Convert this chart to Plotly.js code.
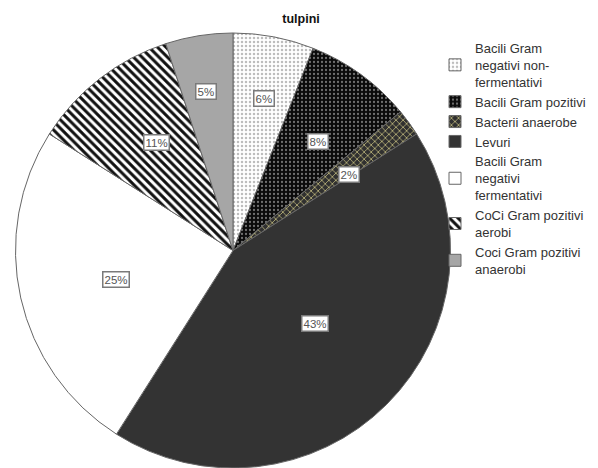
<!DOCTYPE html>
<html>
<head>
<meta charset="utf-8">
<script src="https://cdn.plot.ly/plotly-3.0.1.min.js"></script>
<style>html,body{margin:0;padding:0;background:#fff;}#chart{width:598px;height:468px;}</style>
</head>
<body>
<div id="chart"></div>
<script>
// Data
var labels = [
  "Bacili Gram<br>negativi non-<br>fermentativi",
  "Bacili Gram pozitivi",
  "Bacterii anaerobe",
  "Levuri",
  "Bacili Gram<br>negativi<br>fermentativi",
  "CoCi Gram pozitivi<br>aerobi",
  "Coci Gram pozitivi<br>anaerobi"
];
var values = [6, 8, 2, 43, 25, 11, 5];
var title = "tulpini";

// Styles
var bgColors = ["#ffffff", "#0a0a0a", "#303030", "#333333", "#ffffff", "#ffffff", "#a6a6a6"];
var patShapes = [".", ".", "x", "", "", "\\", ""];
var patFg = ["#bdbdbd", "#707070", "#b8b27a", "#333333", "#ffffff", "#111111", "#a6a6a6"];
var patSize = [4, 4, 5, 8, 8, 6, 8];
var patSolid = [0.3, 0.25, 0.3, 0.3, 0.3, 0.5, 0.3];
// radial placement of the percentage boxes (fraction of radius), a style setting
var labelRadius = [0.75, 0.665, 0.66, 0.53, 0.615, 0.675, 0.78];

var W = 598, H = 468, mT = 33;
var plotH = H - mT;
var R = plotH / 2;
var cxPx = 233;
var dom = [(cxPx - R) / W, (cxPx + R) / W];

var total = values.reduce(function (a, b) { return a + b; }, 0);
var annotations = [];
var cum = 0;
for (var i = 0; i < values.length; i++) {
  var mid = (cum + values[i] / 2) / total * 2 * Math.PI;
  cum += values[i];
  var px = cxPx + R * labelRadius[i] * Math.sin(mid);
  var py = R * labelRadius[i] * Math.cos(mid); // up from center
  annotations.push({
    x: px / W, y: 0.5 + py / plotH, xref: "paper", yref: "paper",
    text: Math.round(values[i] / total * 100) + "%",
    showarrow: false,
    font: {family: "Liberation Sans, Arial, sans-serif", size: 11.5, color: "#555"},
    bgcolor: "#ffffff", bordercolor: "#7a7a7a", borderwidth: 1.5, borderpad: 1
  });
}

var trace = {
  type: "pie",
  labels: labels,
  values: values,
  sort: false,
  direction: "clockwise",
  rotation: 0,
  textinfo: "none",
  hoverinfo: "label+percent",
  domain: {x: dom, y: [0, 1]},
  marker: {
    colors: bgColors,
    line: {color: "#666666", width: 1},
    pattern: {
      shape: patShapes,
      fgcolor: patFg,
      bgcolor: bgColors,
      size: patSize,
      solidity: patSolid,
      fillmode: "replace"
    }
  }
};

var layout = {
  width: W, height: H,
  margin: {l: 0, r: 0, t: mT, b: 0, pad: 0},
  paper_bgcolor: "#ffffff",
  plot_bgcolor: "#ffffff",
  title: {
    text: "<b>" + title + "</b>",
    font: {family: "Liberation Sans, Arial, sans-serif", size: 12.5, color: "#111"},
    x: 301 / W, xanchor: "center", xref: "container",
    y: 1 - 19 / H, yanchor: "middle", yref: "container"
  },
  showlegend: true,
  legend: {
    x: 435 / W, xanchor: "left",
    y: 1, yanchor: "top",
    font: {family: "Liberation Sans, Arial, sans-serif", size: 13, color: "#333"},
    bgcolor: "rgba(0,0,0,0)",
    itemwidth: 30,
    traceorder: "normal"
  },
  annotations: annotations
};

Plotly.newPlot("chart", [trace], layout, {displayModeBar: false, staticPlot: true});
</script>
</body>
</html>
